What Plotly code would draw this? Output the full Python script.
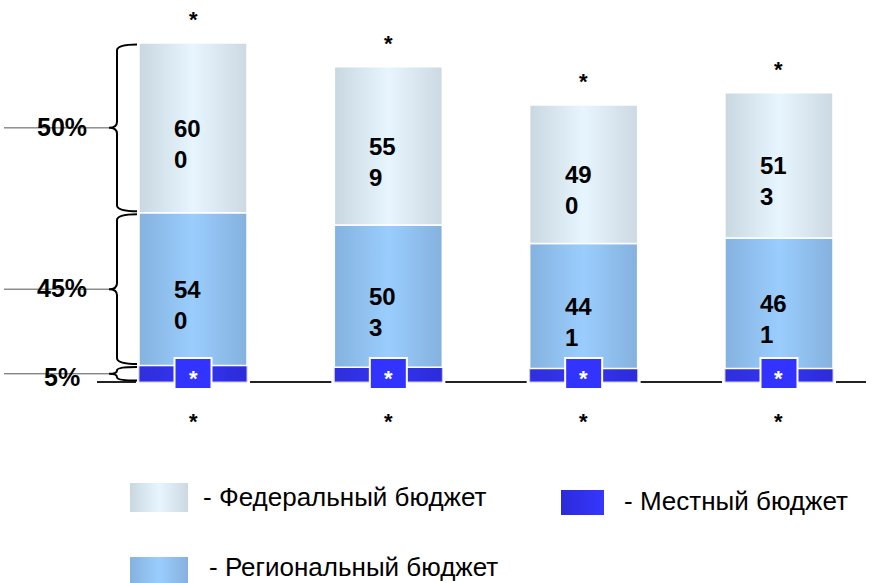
import plotly.graph_objects as go

# ---- data ----
categories = ["1", "2", "3", "4"]
federal = [600, 559, 490, 513]
regional = [540, 503, 441, 461]
local = [58, 52, 48, 48]
local_marks = ["*", "*", "*", "*"]
top_marks = ["*", "*", "*", "*"]
bottom_marks = ["*", "*", "*", "*"]
legend_labels = ["- Федеральный бюджет", "- Региональный бюджет", "- Местный бюджет"]

# ---- layout constants (pixel <-> data mapping) ----
W, H = 877, 583
X0, DX = 193.0, 195.33
Y0, K = 382.0, 0.283
FONT = "Arial, Liberation Sans, sans-serif"


def px2x(px):
    return (px - X0) / DX


def py2y(py):
    return (Y0 - py) / K


FED_CS = [[0, "#C9D7E1"], [0.5, "#E7F5FE"], [1, "#CCD9E3"]]
REG_CS = [[0, "#85B2DF"], [0.5, "#9ACDFD"], [1, "#85B1DE"]]
LOC_CS = [[0, "#2F2FDC"], [0.5, "#3434F0"], [1, "#2C2CDA"]]
LEG_LOC_CS = [[0, "#2B2BD8"], [1, "#3636FF"]]

fig = go.Figure()


def poly(xs, ys, cs, line_color="white", line_width=1.5):
    fig.add_trace(go.Scatter(
        x=xs, y=ys, mode="lines", fill="toself",
        fillgradient=dict(type="horizontal", colorscale=cs),
        line=dict(color=line_color, width=line_width),
        hoverinfo="skip", showlegend=False))


def rect(x0, x1, y0, y1, cs, line_color="white", line_width=1.5):
    poly([x0, x1, x1, x0, x0], [y0, y0, y1, y1, y0], cs, line_color, line_width)


bar_w = 108 / DX
xs = list(range(len(categories)))
totals = [f + r + l for f, r, l in zip(federal, regional, local)]

annotations = []
shapes = []

# baseline segments between bars
gap = 3 / DX
seg_pts = [px2x(97)]
for i in xs:
    seg_pts += [i - bar_w / 2 - gap, i + bar_w / 2 + gap]
seg_pts.append(px2x(866))
for a, b in zip(seg_pts[0::2], seg_pts[1::2]):
    shapes.append(dict(type="line", xref="x", yref="y", x0=a, x1=b, y0=0, y1=0,
                       line=dict(color="#222", width=2), layer="below"))

sq_hw = 18.5 / DX
for i in xs:
    l, r, f = local[i], regional[i], federal[i]
    x0, x1 = i - bar_w / 2, i + bar_w / 2
    rect(x0, x1, 0, l, LOC_CS, line_color="#C8C8FF", line_width=1)
    rect(x0, x1, l, l + r, REG_CS)
    rect(x0, x1, l + r, l + r + f, FED_CS)
    # small square marker for local budget
    rect(i - sq_hw, i + sq_hw, py2y(389), py2y(358), [[0, "#3333FF"], [1, "#3333FF"]],
         line_color="white", line_width=2)
    annotations.append(dict(x=i, y=py2y(373), text="<b>" + local_marks[i] + "</b>", showarrow=False,
                            font=dict(family=FONT, size=22, color="white"), yanchor="middle",
                            yshift=-5))
    # value labels (wrapped like the original)
    for v, mid in ((f, l + r + f / 2), (r, l + r / 2)):
        s = str(v)
        annotations.append(dict(x=i, y=mid, text="<b>" + s[:2] + "<br>" + s[2:] + "</b>",
                                showarrow=False, xanchor="left", yanchor="middle", align="left",
                                xshift=-21, yshift=-16,
                                font=dict(family=FONT, size=24, color="black")))
    # asterisks above and below
    annotations.append(dict(x=i, y=totals[i], text="<b>" + top_marks[i] + "</b>", showarrow=False,
                            yanchor="middle", yshift=23,
                            font=dict(family=FONT, size=22, color="black")))
    annotations.append(dict(x=i, y=py2y(416), text="<b>" + bottom_marks[i] + "</b>", showarrow=False,
                            yanchor="middle", yshift=-5,
                            font=dict(family=FONT, size=22, color="black")))

# braces with percentage labels for the first bar
xs_serif, xv, xc = px2x(137), px2x(117), px2x(109)
l0, r0, f0 = local[0], regional[0], federal[0]
segments = [(l0 + r0, l0 + r0 + f0, f0), (l0, l0 + r0, r0), (0, l0, l0)]
inset = 1.5 / K
for bot, top, val in segments:
    t, b = top - inset, bot + inset
    mid = (t + b) / 2
    rr = min(6 / K, (t - b) / 4)
    path = (f"M {xs_serif},{t} Q {xv},{t} {xv},{t - rr} L {xv},{mid + rr} "
            f"Q {xv},{mid} {xc},{mid} Q {xv},{mid} {xv},{mid - rr} "
            f"L {xv},{b + rr} Q {xv},{b} {xs_serif},{b}")
    shapes.append(dict(type="path", xref="x", yref="y", path=path,
                       line=dict(color="black", width=2)))
    shapes.append(dict(type="line", xref="x", yref="y", x0=px2x(4), x1=xc, y0=mid, y1=mid,
                       line=dict(color="#555", width=1)))
    pct = round(val / totals[0] * 100)
    annotations.append(dict(x=px2x(62), y=mid, text=f"<b>{pct}%</b>", showarrow=False,
                            yanchor="middle", yshift=-3 if val == l0 else 1,
                            font=dict(family=FONT, size=25, color="black")))

# legend
legend_items = [
    (130, 188, 483, 512, FED_CS, legend_labels[0], 202, 497),
    (130, 188, 557, 583, REG_CS, legend_labels[1], 208, 567),
    (561, 604, 490, 515, LEG_LOC_CS, legend_labels[2], 623, 501),
]
for lx0, lx1, ly0, ly1, cs, txt, tx, ty in legend_items:
    rect(px2x(lx0), px2x(lx1), py2y(ly1), py2y(ly0), cs, line_color="rgba(255,255,255,0)", line_width=0)
    annotations.append(dict(x=px2x(tx), y=py2y(ty), text=txt, showarrow=False,
                            xanchor="left", yanchor="middle", borderpad=0,
                            font=dict(family=FONT, size=26, color="black")))

fig.update_layout(
    width=W, height=H,
    margin=dict(l=0, r=0, t=0, b=0),
    paper_bgcolor="white", plot_bgcolor="white",
    showlegend=False,
    xaxis=dict(visible=False, range=[px2x(0), px2x(W)], fixedrange=True),
    yaxis=dict(visible=False, range=[py2y(H), py2y(0)], fixedrange=True),
    shapes=shapes, annotations=annotations,
)

fig.write_html("out.html", config={"displayModeBar": False},
               post_script="document.body.style.margin='0';")
